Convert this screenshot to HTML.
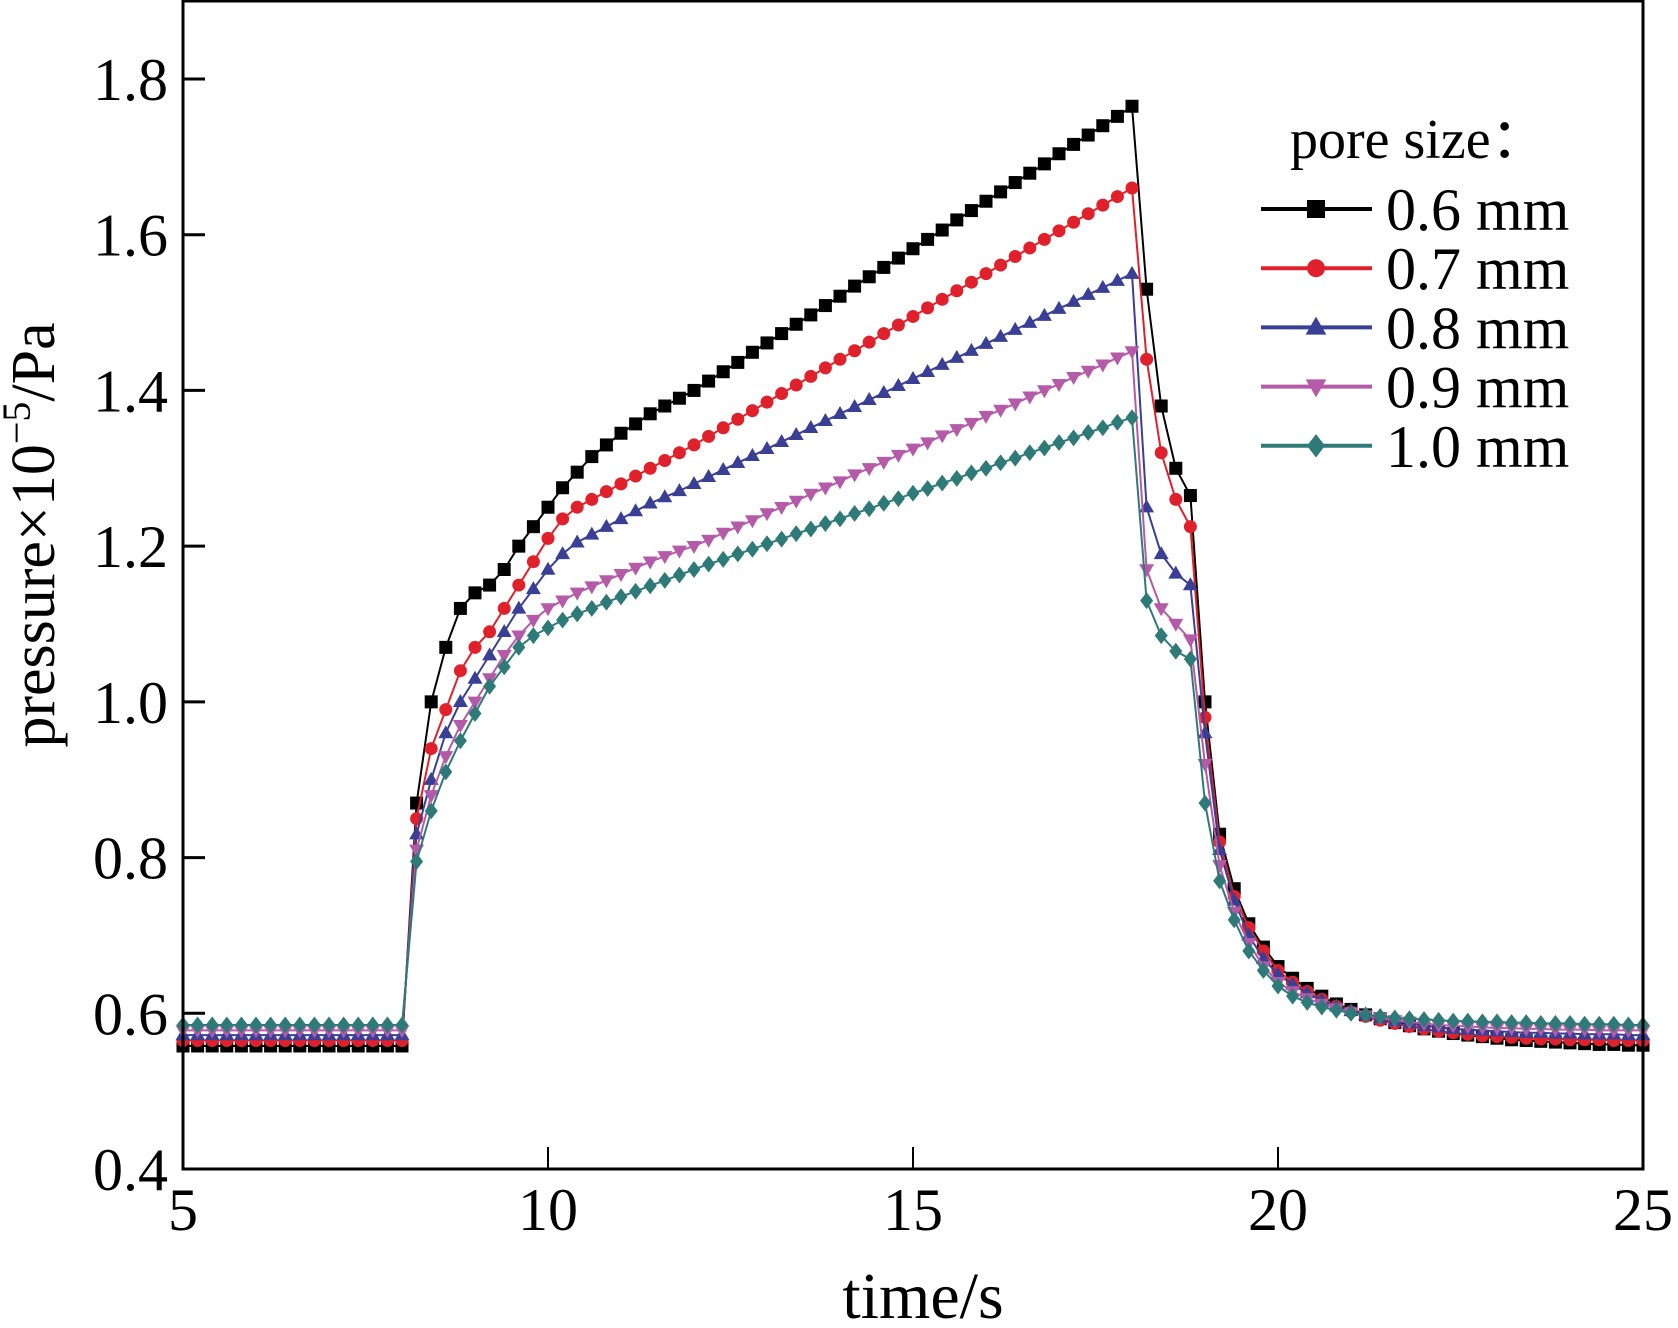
<!DOCTYPE html>
<html><head><meta charset="utf-8"><style>
html,body{margin:0;padding:0;background:#fff}
svg{display:block}
text{font-family:"Liberation Serif",serif;fill:#000}
</style></head><body>
<svg id="chart" width="1678" height="1328" viewBox="0 0 1678 1328" xmlns="http://www.w3.org/2000/svg">
<g id="plot"></g>
<g id="axes"></g>
<g id="legend"></g>
</svg>
<script>
const tStart = 5, tStep = 0.2, tCount = 101;
const xTicks = [5, 10, 15, 20, 25];
const yTicks = [0.4, 0.6, 0.8, 1.0, 1.2, 1.4, 1.6, 1.8];
const yTickLabels = ["0.4", "0.6", "0.8", "1.0", "1.2", "1.4", "1.6", "1.8"];
const seriesNames = ["0.6 mm", "0.7 mm", "0.8 mm", "0.9 mm", "1.0 mm"];
const s06 = [].concat(Array(16).fill(0.558),
 [0.87,1.0,1.07,1.12,1.14,1.15,1.17,1.2,1.225,1.25,1.275,1.295,1.315,1.33,1.345,1.357,1.37,1.38,1.39,1.40],
 [1.412,1.424,1.436,1.449,1.461,1.473,1.485,1.497,1.509,1.521,1.534,1.546,1.558,1.570,1.582,1.594,1.606,1.619,1.631,1.643,1.655,1.667,1.679,1.691,1.704,1.716,1.728,1.740,1.752,1.765],
 [1.53,1.38,1.30,1.265,1.0,0.83,0.76,0.715,0.685,0.66],
 [0.645,0.632,0.622,0.612,0.605,0.598,0.593,0.588,0.584,0.58,0.577,0.574,0.572,0.57,0.568,0.566,0.565,0.564,0.563,0.562,0.561,0.56,0.56,0.559,0.559]);
const s07 = [].concat(Array(16).fill(0.565),
 [0.85,0.94,0.99,1.04,1.07,1.09,1.12,1.15,1.18,1.21,1.235,1.25,1.26,1.27,1.28,1.29,1.30,1.31,1.32,1.33],
 [1.341,1.352,1.363,1.374,1.385,1.396,1.407,1.418,1.429,1.44,1.451,1.462,1.473,1.484,1.495,1.506,1.517,1.528,1.539,1.55,1.561,1.572,1.583,1.594,1.605,1.616,1.627,1.638,1.649,1.66],
 [1.44,1.32,1.26,1.225,0.98,0.82,0.75,0.71,0.68,0.655],
 [0.64,0.628,0.618,0.609,0.602,0.596,0.591,0.587,0.583,0.58,0.577,0.575,0.573,0.571,0.57,0.569,0.568,0.567,0.567,0.566,0.566,0.566,0.565,0.565,0.565]);
const s08 = [].concat(Array(16).fill(0.572),
 [0.83,0.90,0.96,1.00,1.03,1.06,1.09,1.12,1.145,1.17,1.19,1.205,1.215,1.225,1.235,1.245,1.255,1.263,1.271,1.28],
 [1.289,1.298,1.307,1.316,1.325,1.334,1.343,1.352,1.361,1.37,1.379,1.388,1.397,1.406,1.415,1.424,1.433,1.442,1.451,1.46,1.469,1.478,1.487,1.496,1.505,1.514,1.523,1.532,1.541,1.55],
 [1.25,1.19,1.165,1.15,0.96,0.81,0.745,0.70,0.67,0.65],
 [0.637,0.626,0.617,0.609,0.603,0.598,0.594,0.59,0.587,0.584,0.582,0.58,0.579,0.578,0.577,0.576,0.575,0.575,0.574,0.574,0.573,0.573,0.573,0.572,0.572]);
const s09 = [].concat(Array(16).fill(0.578),
 [0.81,0.88,0.93,0.97,1.0,1.03,1.06,1.085,1.105,1.12,1.13,1.14,1.148,1.156,1.164,1.172,1.18,1.187,1.194,1.20],
 [1.208,1.217,1.225,1.233,1.242,1.25,1.258,1.267,1.275,1.283,1.292,1.3,1.308,1.317,1.325,1.333,1.342,1.35,1.358,1.367,1.375,1.383,1.392,1.4,1.408,1.417,1.425,1.433,1.442,1.45],
 [1.17,1.12,1.10,1.08,0.92,0.79,0.73,0.69,0.66,0.64],
 [0.628,0.619,0.612,0.606,0.601,0.597,0.594,0.591,0.589,0.587,0.585,0.584,0.583,0.582,0.581,0.581,0.58,0.58,0.579,0.579,0.579,0.578,0.578,0.578,0.578]);
const s10 = [].concat(Array(16).fill(0.585),
 [0.795,0.86,0.91,0.95,0.985,1.02,1.045,1.07,1.085,1.095,1.105,1.113,1.12,1.128,1.135,1.142,1.149,1.156,1.163,1.17],
 [1.177,1.183,1.19,1.196,1.203,1.209,1.216,1.222,1.229,1.235,1.242,1.248,1.255,1.261,1.268,1.274,1.281,1.287,1.294,1.3,1.307,1.313,1.32,1.326,1.333,1.339,1.346,1.352,1.359,1.365],
 [1.13,1.085,1.065,1.055,0.87,0.77,0.72,0.68,0.655,0.635],
 [0.622,0.614,0.608,0.604,0.6,0.598,0.596,0.594,0.593,0.592,0.591,0.59,0.59,0.589,0.589,0.588,0.588,0.587,0.587,0.587,0.586,0.586,0.586,0.585,0.585]);
const seriesValues = [s06, s07, s08, s09, s10];
const colors = ["#000000", "#e0202a", "#3a3f96", "#b45aa8", "#2e7a78"];
const markers = ["square", "circle", "tri-up", "tri-down", "diamond"];

const NS = "http://www.w3.org/2000/svg";
const L = 183, R = 1643, B = 1169, T = 1;
const xMin = 5, xMax = 25, yMin = 0.4, yPer = (1169 - 79) / 1.4;
const X = t => L + (t - xMin) / (xMax - xMin) * (R - L);
const Y = v => B - (v - yMin) * yPer;
function mk(tag, attrs, parent) { const e = document.createElementNS(NS, tag); for (const k in attrs) e.setAttribute(k, attrs[k]); parent.appendChild(e); return e; }

function marker(kind, x, y, color, parent, s) {
  let e;
  if (kind === "square") e = mk("rect", {x: x - s, y: y - s, width: 2 * s, height: 2 * s, fill: color}, parent);
  else if (kind === "circle") e = mk("circle", {cx: x, cy: y, r: s, fill: color}, parent);
  else if (kind === "tri-up") e = mk("polygon", {points: `${x},${y - s * 1.2} ${x - s * 1.15},${y + s * 0.8} ${x + s * 1.15},${y + s * 0.8}`, fill: color}, parent);
  else if (kind === "tri-down") e = mk("polygon", {points: `${x},${y + s * 1.2} ${x - s * 1.15},${y - s * 0.8} ${x + s * 1.15},${y - s * 0.8}`, fill: color}, parent);
  else e = mk("polygon", {points: `${x},${y - s * 1.3} ${x + s},${y} ${x},${y + s * 1.3} ${x - s},${y}`, fill: color}, parent);
  return e;
}

const plot = document.getElementById("plot");
seriesValues.forEach((vals, si) => {
  const g = mk("g", {}, plot);
  
  
  const pts = vals.map((v, i) => X(tStart + i * tStep).toFixed(1) + "," + Y(v).toFixed(1)).join(" ");
  const line = mk("polyline", {points: pts, fill: "none", stroke: colors[si], "stroke-width": 2}, g);
  
  
  vals.forEach((v, i) => {
    const m = marker(markers[si], X(tStart + i * tStep), Y(v), colors[si], g, 6.5);
    
    
  });
});

const axes = document.getElementById("axes");
const frame = mk("rect", {x: L, y: T, width: R - L, height: B - T, fill: "none", stroke: "#000", "stroke-width": 3}, axes);


xTicks.forEach(t => {
  const tk = mk("line", {x1: X(t), x2: X(t), y1: B, y2: B - 22, stroke: "#000", "stroke-width": 2}, axes);
  
  
  const lb = mk("text", {x: X(t), y: 1230, "text-anchor": "middle", "font-size": 60}, axes);
  lb.textContent = String(t);
  
  
});
yTicks.forEach((v, i) => {
  const tk = mk("line", {x1: L, x2: L + 22, y1: Y(v), y2: Y(v), stroke: "#000", "stroke-width": 3}, axes);
  
  
  const lb = mk("text", {x: 168, y: Y(v) + 21, "text-anchor": "end", "font-size": 60}, axes);
  lb.textContent = yTickLabels[i];
  
  
});
const xt = mk("text", {x: 923, y: 1318, "text-anchor": "middle", "font-size": 66}, axes);
xt.textContent = "time/s";


const yt = mk("text", {x: 0, y: 0, "text-anchor": "middle", "font-size": 62, transform: "translate(54,535) rotate(-90)"}, axes);
yt.innerHTML = 'pressure×10<tspan dy="-24" font-size="40">−5</tspan><tspan dy="24">/Pa</tspan>';



const legend = document.getElementById("legend");
const lt = mk("text", {x: 1290, y: 158, "font-size": 56}, legend);
lt.textContent = "pore size：";


seriesNames.forEach((n, i) => {
  const y = 209 + i * 59.2;
  const g = mk("g", {}, legend);
  
  
  mk("line", {x1: 1261, x2: 1372, y1: y, y2: y, stroke: colors[i], "stroke-width": 4}, g);
  marker(markers[i], 1316, y, colors[i], g, 9);
  const tx = mk("text", {x: 1386, y: y + 21, "font-size": 60}, g);
  tx.textContent = n;
  
  
});
</script>
</body></html>
